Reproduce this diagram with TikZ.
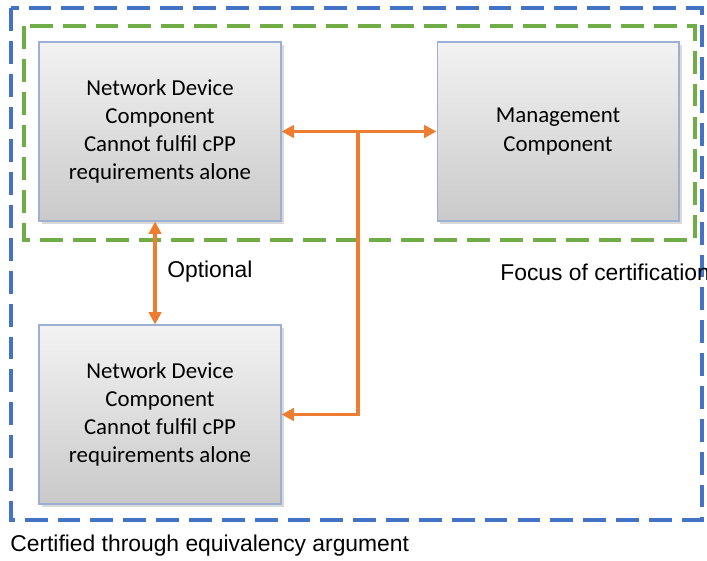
\documentclass[tikz,border=0pt]{standalone}
\usepackage{fontspec}
\setmainfont{Liberation Sans}
\newfontfamily\boxfont{Carlito}
\usetikzlibrary{arrows.meta,shadows}
\definecolor{certblue}{HTML}{4472C4}
\definecolor{focusgreen}{HTML}{70AD47}
\definecolor{linkorange}{HTML}{ED7D31}
\definecolor{boxline}{HTML}{9DB0D2}
\begin{document}
\begin{tikzpicture}[x=0.02cm,y=-0.02cm,>={Triangle[length=7pt,width=7pt]},
    comp/.style={draw=boxline,line width=0.6pt,top color=gray!10,bottom color=gray!42,
        minimum width=4.84cm,minimum height=3.58cm,align=center,
        font=\boxfont\fontsize{13}{16}\selectfont,
        drop shadow={shadow xshift=1.5pt,shadow yshift=-1.5pt,opacity=0.3}},
    link/.style={draw=linkorange,line width=2pt},
    frame/.style={line width=2pt,dash pattern=on 13pt off 5.7pt},
    lbl/.style={anchor=west,inner sep=0pt,font=\fontsize{13}{16}\selectfont}]
\useasboundingbox (0,0) rectangle (707,561);
% frames
\draw[frame,certblue] (11,8) rectangle (702,520);
\draw[frame,focusgreen] (24,26) rectangle (695,240);
% components
\node[comp] (ndcA) at (160,131.5) {Network Device\\Component\\Cannot fulfil cPP\\requirements alone};
\node[comp] (mgmt) at (558,131.5) {Management\\Component};
\node[comp] (ndcB) at (160,414.5) {Network Device\\Component\\Cannot fulfil cPP\\requirements alone};
% links
\coordinate (tee) at (358,131.5);
\draw[link,<->] (ndcA.east) -- (mgmt.west);
\draw[link,->] (tee) |- (ndcB.east);
\draw[link,<->] ([xshift=-2.8pt]ndcA.south) -- ([xshift=-2.8pt]ndcB.north);
% labels
\node[lbl] (opt) at (167,272) {Optional};
\node[lbl] (focus) at (500,272) {Focus of certification};
\node[lbl] (equiv) at (10,546) {Certified through equivalency argument};
\end{tikzpicture}
\end{document}
